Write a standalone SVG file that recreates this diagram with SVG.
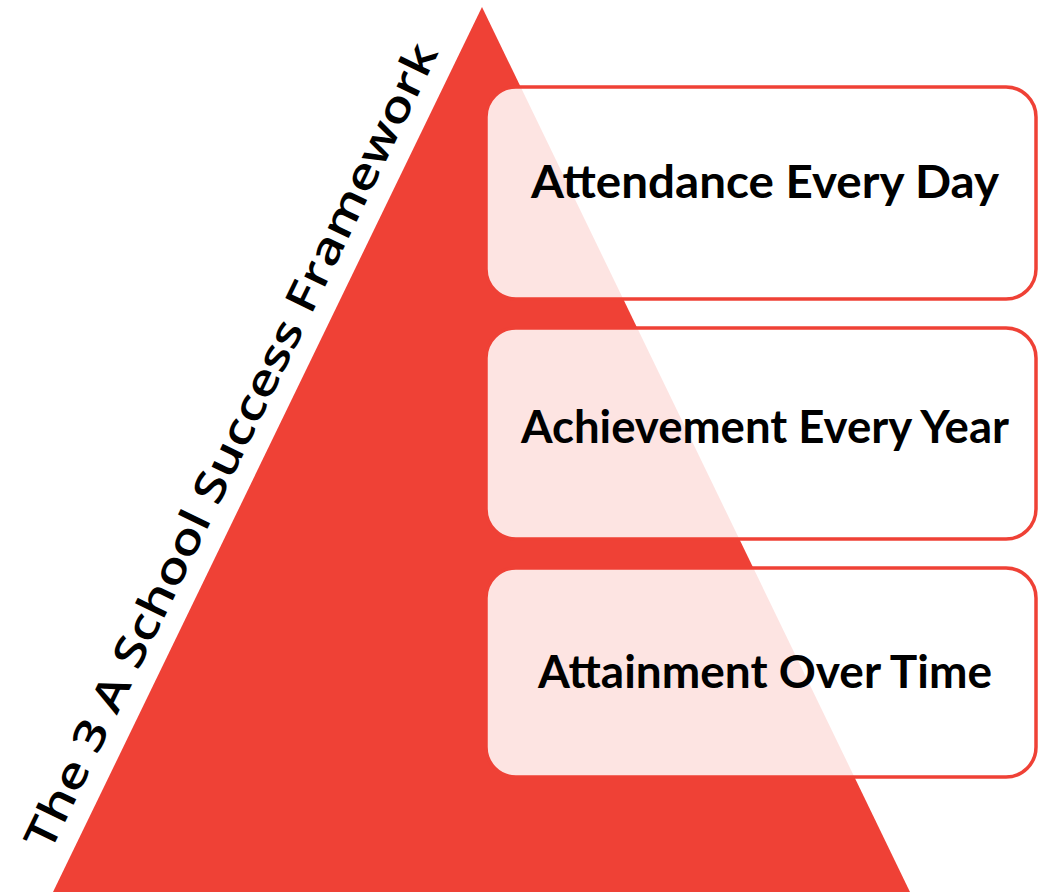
<svg xmlns="http://www.w3.org/2000/svg" width="1038" height="892" viewBox="0 0 1038 892">
  <style>
    .box { fill: #ffffff; fill-opacity: 0.86; stroke: #EF4136; stroke-width: 3.5; }
    .label { font-family: Lato, "Open Sans", "Liberation Sans", sans-serif; font-weight: 700; font-size: 45px; fill: #000000; text-anchor: middle; }
    .title { font-family: "Open Sans", "Liberation Sans", sans-serif; font-weight: 600; font-size: 43px; fill: #000000; }
  </style>
  <rect width="1038" height="892" fill="#ffffff"/>
  <g id="pyramid">
    <polygon points="482,7 910,892 53,892" fill="#EF4136"/>
  </g>
  <g id="title">
    <text class="title" transform="translate(50,853) rotate(-64.1)" textLength="890" lengthAdjust="spacingAndGlyphs">The 3 A School Success Framework</text>
  </g>
  <g id="node-attendance">
    <rect class="box" x="486" y="87" width="550" height="212" rx="30"/>
    <text class="label" x="765" y="198" textLength="468" lengthAdjust="spacingAndGlyphs">Attendance Every Day</text>
  </g>
  <g id="node-achievement">
    <rect class="box" x="486" y="328" width="550" height="211" rx="30"/>
    <text class="label" x="765" y="443" textLength="488" lengthAdjust="spacingAndGlyphs">Achievement Every Year</text>
  </g>
  <g id="node-attainment">
    <rect class="box" x="486" y="568" width="550" height="209" rx="30"/>
    <text class="label" x="765" y="688" textLength="454" lengthAdjust="spacingAndGlyphs">Attainment Over Time</text>
  </g>
  <g id="connectors"></g>
</svg>
